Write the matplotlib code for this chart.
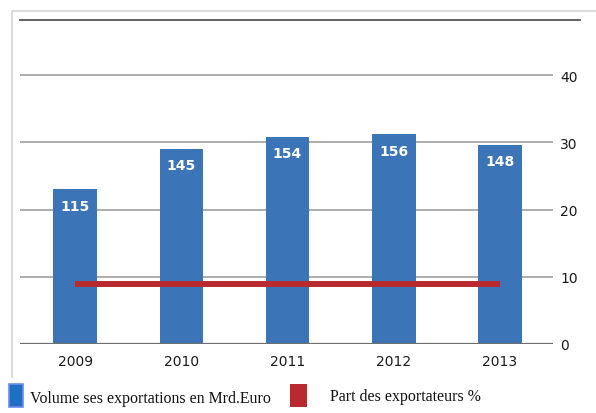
import matplotlib.pyplot as plt
from matplotlib.lines import Line2D
from matplotlib.patches import Rectangle

# données
annees = ["2009", "2010", "2011", "2012", "2013"]
volume = [115, 145, 154, 156, 148]          # Mrd. Euro
part = [9, 9, 9, 9, 9]                      # %
ticks_droite = [0, 10, 20, 30, 40]

bleu = "#3B75B8"
rouge = "#B92A30"

fig = plt.figure(figsize=(5.96, 4.14), dpi=100)
W, H = 596, 414

# cadre gris clair (bord gauche et haut seulement)
fig.add_artist(Line2D([12 / W, 12 / W, 1.0], [1 - 378 / H, 1 - 12 / H, 1 - 12 / H],
                      transform=fig.transFigure, color="#DADADA", linewidth=1.5))

ax = fig.add_axes([20 / W, 1 - 345 / H, (553 - 20) / W, (345 - 21) / H])
ax2 = ax.twinx()

x = range(len(annees))
top = 48.2
ax.set_ylim(0, top * 5)
ax2.set_ylim(0, top)
ax.set_xlim(-0.52, 4.5)

bars = ax.bar(x, volume, width=0.41, color=bleu, zorder=3)
for b, v in zip(bars, volume):
    ax.text(b.get_x() + b.get_width() / 2, v - 7, str(v), ha="center", va="top",
            color="white", fontsize=10, fontweight="bold", family="DejaVu Sans", zorder=4)

ax2.plot(x, part, color=rouge, linewidth=4.3, solid_capstyle="butt", zorder=5)

# grille sur l'axe de droite
for t in ticks_droite[1:]:
    ax.axhline(t * 5, color="#A6A6A6", linewidth=1.3, zorder=1)
ax.axhline(0, color="#6E6E6E", linewidth=1.6, zorder=4)

ax.set_yticks([])
ax2.set_yticks(ticks_droite)
ax2.tick_params(axis="y", length=0, pad=5, labelsize=10, labelcolor="#1A1A1A")
ax.set_xticks(list(x))
ax.set_xticklabels(annees)
ax.tick_params(axis="x", length=0, pad=7, labelsize=10, labelcolor="#1A1A1A")
for a in (ax, ax2):
    for s in a.spines.values():
        s.set_visible(False)
ax.set_zorder(ax2.get_zorder() - 1)
ax2.patch.set_visible(False)

# ligne du haut
fig.add_artist(Line2D([20 / W, 580 / W], [1 - 21 / H, 1 - 21 / H],
                      transform=fig.transFigure, color="#555555", linewidth=1.3))

# légende
fig.patches.append(Rectangle((9 / W, 1 - 408 / H), 14 / W, 23 / H, transform=fig.transFigure,
                             facecolor="#1F6FC5", edgecolor="#6A8BF0", linewidth=1.2))
fig.text(30 / W, 1 - 399 / H, "Volume ses exportations en Mrd.Euro", family="Liberation Serif",
         fontsize=11.4, va="center", ha="left", color="#111111")
fig.patches.append(Rectangle((290 / W, 1 - 408 / H), 17 / W, 23 / H, transform=fig.transFigure,
                             facecolor=rouge, edgecolor="none"))
fig.text(330 / W, 1 - 397 / H, "Part des exportateurs %", family="Liberation Serif",
         fontsize=11.4, va="center", ha="left", color="#111111")

fig.savefig("out.png", dpi=100)
